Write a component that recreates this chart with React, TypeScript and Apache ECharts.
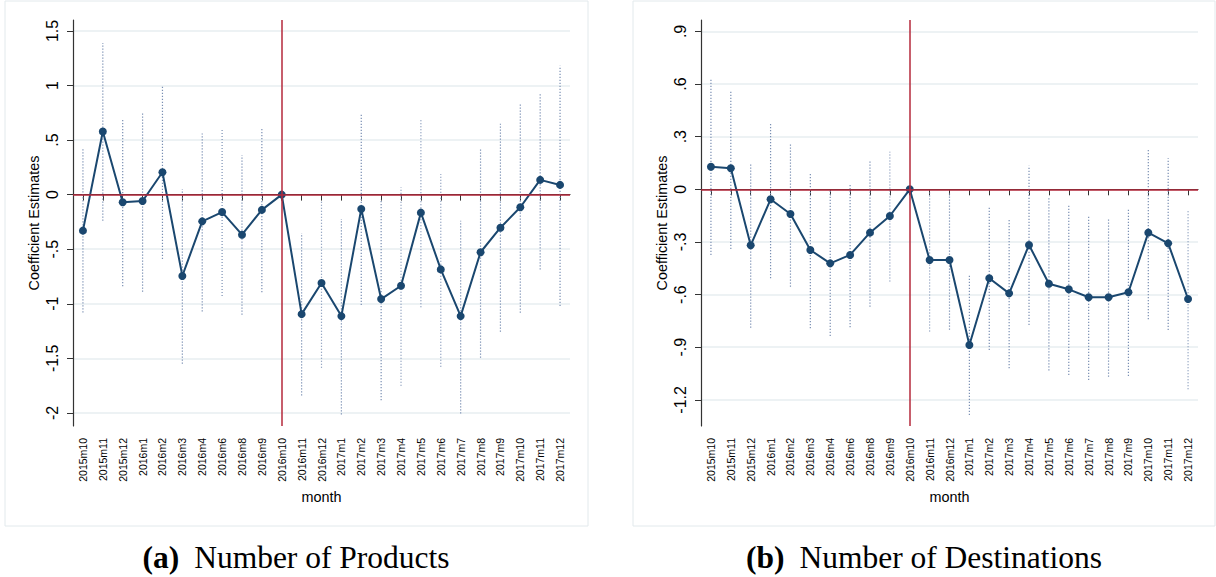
import React, { useEffect, useRef } from "react";
import * as echarts from "echarts";

const months = [
  "2015m10", "2015m11", "2015m12", "2016m1", "2016m2", "2016m3", "2016m4", "2016m6", "2016m8", "2016m9",
  "2016m10", "2016m11", "2016m12", "2017m1", "2017m2", "2017m3", "2017m4", "2017m5", "2017m6", "2017m7",
  "2017m8", "2017m9", "2017m10", "2017m11", "2017m12",
];
const eventMonth = "2016m10";

const productsCoef = [-0.33, 0.578, -0.07, -0.058, 0.205, -0.745, -0.245, -0.16, -0.367, -0.14, 0, -1.095, -0.81, -1.113, -0.131, -0.957, -0.835, -0.165, -0.685, -1.113, -0.528, -0.303, -0.116, 0.135, 0.089];
const productsLo = [-1.08, -0.24, -0.84, -0.89, -0.59, -1.55, -1.07, -0.93, -1.1, -0.895, null, -1.84, -1.587, -2.015, -1.012, -1.883, -1.752, -1.033, -1.578, -2.006, -1.495, -1.257, -1.083, -0.685, -1.02];
const productsHi = [0.42, 1.39, 0.685, 0.76, 1.0, 0.05, 0.56, 0.61, 0.36, 0.61, null, -0.354, -0.058, -0.223, 0.731, -0.04, 0.068, 0.69, 0.19, -0.239, 0.426, 0.649, 0.832, 0.93, 1.18];

const destCoef = [0.129, 0.12, -0.319, -0.057, -0.141, -0.346, -0.422, -0.374, -0.247, -0.152, 0, -0.403, -0.403, -0.887, -0.507, -0.593, -0.317, -0.538, -0.57, -0.615, -0.615, -0.587, -0.247, -0.308, -0.625];
const destLo = [-0.374, -0.34, -0.789, -0.507, -0.555, -0.792, -0.836, -0.786, -0.669, -0.526, null, -0.811, -0.8, -1.286, -0.916, -1.02, -0.773, -1.033, -1.058, -1.087, -1.068, -1.064, -0.741, -0.802, -1.14];
const destHi = [0.632, 0.566, 0.148, 0.382, 0.262, 0.097, -0.004, 0.03, 0.161, 0.214, null, -0.014, -0.017, -0.488, -0.099, -0.169, 0.135, -0.051, -0.089, -0.152, -0.165, -0.114, 0.228, 0.177, -0.114];

const productsTicks = [1.5, 1, 0.5, 0, -0.5, -1, -1.5, -2];
const destTicks = [0.9, 0.6, 0.3, 0, -0.3, -0.6, -0.9, -1.2];
const productsRange = [-2.12, 1.6];
const destRange = [-1.349, 0.965];

const captionA = ["(a)", "Number of Products"];
const captionB = ["(b)", "Number of Destinations"];

const NAVY = "#1a476f";
const RED = "#b5283b";
const CI = "#7a8fb3";
const GRID = "#e7eef0";
const AXIS = "#333333";
const FONT = "'Liberation Sans', Arial, sans-serif";
const SERIF = "'Liberation Serif', 'Times New Roman', serif";

const fmt = (v: number) => {
  const s = String(Math.round(v * 100) / 100);
  return s.replace(/^(-?)0\./, "$1.");
};

function makeAxes(gi: number, range: number[], ticks: number[]) {
  const x = {
    type: "category",
    gridIndex: gi,
    data: months,
    boundaryGap: true,
    axisLine: { show: true, lineStyle: { color: AXIS, width: 1.2 } },
    axisTick: { show: true, alignWithLabel: true, length: 6, interval: 0, lineStyle: { color: AXIS, width: 1 } },
    axisLabel: { interval: 0, rotate: 90, fontSize: 10.5, color: "#000", margin: 12, fontFamily: FONT },
    splitLine: { show: false },
    name: "month",
    nameLocation: "middle",
    nameGap: 61,
    nameTextStyle: { fontSize: 14.4, color: "#000", fontFamily: FONT },
  };
  const y = {
    type: "value",
    gridIndex: gi,
    min: range[0],
    max: range[1],
    axisLine: { show: true, lineStyle: { color: AXIS, width: 1.2 } },
    axisTick: { show: true, length: 6, customValues: ticks, lineStyle: { color: AXIS, width: 1 } },
    axisLabel: {
      customValues: ticks,
      rotate: 90,
      fontSize: 16,
      color: "#000",
      margin: 13,
      fontFamily: FONT,
      formatter: (v: number) => fmt(v),
    },
    splitLine: { show: true, lineStyle: { color: GRID, width: 1.5 } },
    name: "Coefficient Estimates",
    nameLocation: "middle",
    nameRotate: 90,
    nameGap: 32,
    nameTextStyle: { fontSize: 14.4, color: "#000", fontFamily: FONT },
  };
  return { x, y };
}

function ciSeries(gi: number, lo: (number | null)[], hi: (number | null)[]) {
  const data: number[][] = [];
  months.forEach((_, i) => {
    if (lo[i] != null && hi[i] != null) data.push([i, lo[i] as number, hi[i] as number]);
  });
  return {
    type: "custom",
    xAxisIndex: gi,
    yAxisIndex: gi,
    z: 1,
    silent: true,
    encode: { x: 0, y: [1, 2] },
    data,
    renderItem: (_params: any, api: any) => {
      const i = api.value(0);
      const p1 = api.coord([i, api.value(1)]);
      const p2 = api.coord([i, api.value(2)]);
      return {
        type: "line",
        shape: { x1: p1[0], y1: p1[1], x2: p2[0], y2: p2[1] },
        style: { stroke: CI, lineWidth: 1.2, lineDash: [1.2, 1.8] },
      };
    },
  };
}

function coefSeries(gi: number, coef: number[]) {
  return {
    type: "line",
    xAxisIndex: gi,
    yAxisIndex: gi,
    z: 3,
    data: coef,
    symbol: "circle",
    symbolSize: 8,
    showAllSymbol: true,
    lineStyle: { color: NAVY, width: 2 },
    itemStyle: { color: NAVY },
    markLine: {
      silent: true,
      symbol: ["none", "none"],
      label: { show: false },
      lineStyle: { color: RED, width: 1.5, type: "solid" },
      data: [{ yAxis: 0 }, { xAxis: eventMonth }],
    },
  };
}

function caption(cx: number, parts: string[]) {
  return {
    type: "text",
    x: cx,
    y: 557,
    style: {
      text: `{b|${parts[0]}}{n|${parts[1]}}`,
      align: "center",
      verticalAlign: "middle",
      rich: {
        b: { fontFamily: SERIF, fontSize: 31.5, fontWeight: "bold", fill: "#000", padding: [0, 15, 0, 0] },
        n: { fontFamily: SERIF, fontSize: 31.5, fill: "#000" },
      },
    },
  };
}

export default function App() {
  const ref = useRef<HTMLDivElement>(null);
  useEffect(() => {
    if (!ref.current) return;
    const chart = echarts.init(ref.current, null, { renderer: "svg" });
    const a = makeAxes(0, productsRange, productsTicks);
    const b = makeAxes(1, destRange, destTicks);
    chart.setOption({
      animation: false,
      backgroundColor: "#ffffff",
      textStyle: { fontFamily: FONT },
      grid: [
        { left: 73, top: 20, width: 497, height: 406 },
        { left: 701, top: 20, width: 497, height: 406 },
      ],
      xAxis: [a.x, b.x],
      yAxis: [a.y, b.y],
      series: [
        ciSeries(0, productsLo, productsHi),
        coefSeries(0, productsCoef),
        ciSeries(1, destLo, destHi),
        coefSeries(1, destCoef),
      ],
      graphic: [
        { type: "rect", z: -10, shape: { x: 5, y: 1, width: 583, height: 525 }, style: { fill: "none", stroke: "#e2e9ec", lineWidth: 1 } },
        { type: "rect", z: -10, shape: { x: 633, y: 1, width: 582, height: 525 }, style: { fill: "none", stroke: "#e2e9ec", lineWidth: 1 } },
        caption(296, captionA),
        caption(924, captionB),
      ],
    });
    return () => chart.dispose();
  }, []);
  return (
    <div style={{ position: "absolute", left: 0, top: 0, width: 1216, height: 577, background: "#fff" }}>
      <div ref={ref} style={{ width: 1216, height: 577 }} />
    </div>
  );
}
